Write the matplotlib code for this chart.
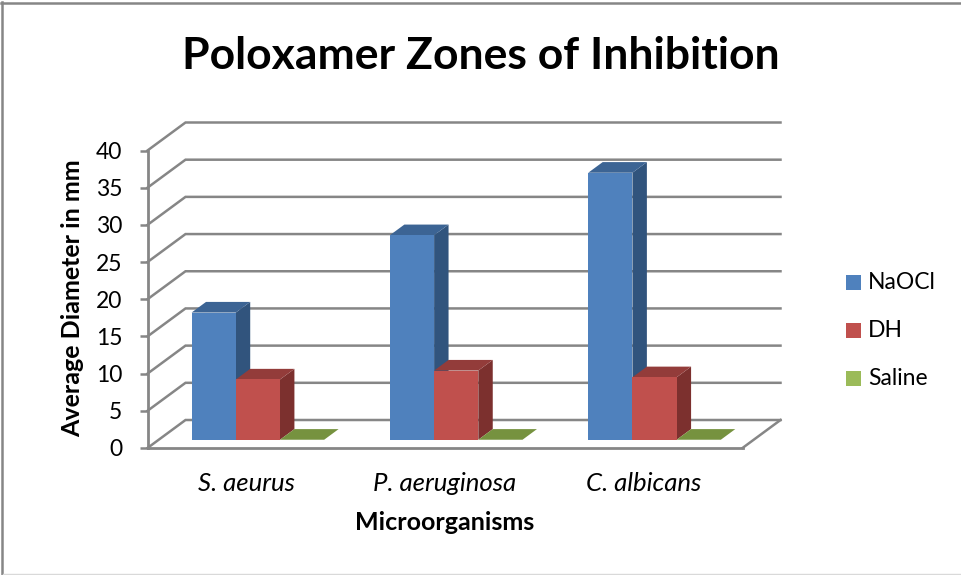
import matplotlib
matplotlib.use('Agg')
import matplotlib.pyplot as plt
from matplotlib.lines import Line2D
from matplotlib.patches import Rectangle

# --- Data ---
categories = ['S. aeurus', 'P. aeruginosa', 'C. albicans']
series_names = ['NaOCl', 'DH', 'Saline']
naocl = [17.1, 27.5, 35.9]
dh = [8.1, 9.3, 8.4]
saline = [0, 0, 0]
y_ticks = [0, 5, 10, 15, 20, 25, 30, 35, 40]

# --- Style ---
W, H = 961, 575
FONT = 'Lato'
GRID = '#868686'
FRONT = ['#4F81BD', '#C0504D', '#9BBB59']
TOP = ['#3C6494', '#933C3A', '#76923F']
SIDE = ['#31547D', '#7C302E', '#637B34']

# plot area in pixels
X0, X1 = 147.5, 742.5
Y0, Y40 = 448.0, 150.5

# depth of the 3d box, in data units
DX = 38 / ((X1 - X0) / 3)
DY = 28 / ((Y0 - Y40) / 40)
BAR_W = 44.2 / ((X1 - X0) / 3)
BAR_SHIFT = 0.295   # bars start this far back in the box
BAR_DEPTH = 0.38    # and take up this share of it

fig = plt.figure(figsize=(W / 100, H / 100), dpi=100)
fig.patch.set_facecolor('white')
ax = fig.add_axes([X0 / W, 1 - Y0 / H, (X1 - X0) / W, (Y0 - Y40) / H])
ax.set_xlim(0, 3)
ax.set_ylim(0, 40)
ax.patch.set_visible(False)

# chart border, the picture is cropped so only top and left show fully
fig.add_artist(Line2D([0.5 / W, 1], [1 - 3 / H, 1 - 3 / H], color=GRID, lw=1.8, transform=fig.transFigure))
fig.add_artist(Line2D([2 / W, 2 / W], [0, 1 - 2 / H], color=GRID, lw=1.8, transform=fig.transFigure))
fig.add_artist(Line2D([3 / W, 1], [1 - 574 / H, 1 - 574 / H], color='#D9D9D9', lw=1.0, transform=fig.transFigure))

# back wall grid and the side wall diagonals
for v in y_ticks:
    ax.plot([0, DX, 3 + DX], [v, v + DY, v + DY], color=GRID, lw=1.8, clip_on=False, zorder=1,
            solid_joinstyle='miter')
ax.plot([3, 3 + DX], [0, DY], color=GRID, lw=1.8, clip_on=False, zorder=1)


def draw_bar(x, value, i):
    sx = BAR_SHIFT * DX
    sy = BAR_SHIFT * DY
    dx = BAR_DEPTH * DX
    dy = BAR_DEPTH * DY
    x0, x1 = x + sx, x + sx + BAR_W
    y0, y1 = sy, sy + value
    ax.fill([x1, x1 + dx, x1 + dx, x1], [y0, y0 + dy, y1 + dy, y1], color=SIDE[i], lw=0, clip_on=False, zorder=3)
    ax.fill([x0, x1, x1 + dx, x0 + dx], [y1, y1, y1 + dy, y1 + dy], color=TOP[i], lw=0, clip_on=False, zorder=3)
    ax.fill([x0, x1, x1, x0], [y0, y0, y1, y1], color=FRONT[i], lw=0, clip_on=False, zorder=3)


for c in range(len(categories)):
    start = c + 0.5 - 1.5 * BAR_W
    # left to right, each bar covers the side of the one before it
    for i, vals in enumerate([naocl, dh, saline]):
        draw_bar(start + i * BAR_W, vals[c], i)

# axes
for s in ['top', 'right']:
    ax.spines[s].set_visible(False)
for s in ['left', 'bottom']:
    ax.spines[s].set_color(GRID)
    ax.spines[s].set_linewidth(2.0)
ax.set_yticks(y_ticks)
ax.set_yticklabels([str(v) for v in y_ticks], fontsize=16.5, family=FONT, color='black')
ax.tick_params(axis='y', length=6, width=1.8, color=GRID, pad=12)
ax.set_xticks([0.5, 1.5, 2.5])
ax.set_xticklabels(categories, fontsize=18.5, family=FONT, style='italic')
ax.tick_params(axis='x', length=0, pad=17)

# titles
fig.text(481 / W, 1 - 56 / H, 'Poloxamer Zones of Inhibition', ha='center', va='center',
         fontsize=32, fontweight='bold', family=FONT)
fig.text(445 / W, 1 - 523 / H, 'Microorganisms', ha='center', va='center',
         fontsize=18, fontweight='bold', family=FONT)
fig.text(73 / W, 1 - 298.5 / H, 'Average Diameter in mm', ha='center', va='center', rotation=90,
         fontsize=18, fontweight='bold', family=FONT)

# legend
for name, col, y in zip(series_names, FRONT, [282.5, 330.5, 378.5]):
    fig.add_artist(Rectangle((846 / W, 1 - (y + 7.5) / H), 15 / W, 15 / H, transform=fig.transFigure,
                             facecolor=col, edgecolor='none'))
    fig.text(868 / W, 1 - y / H, name, ha='left', va='center', fontsize=16.5, family=FONT)

fig.savefig('out.png', dpi=100)
